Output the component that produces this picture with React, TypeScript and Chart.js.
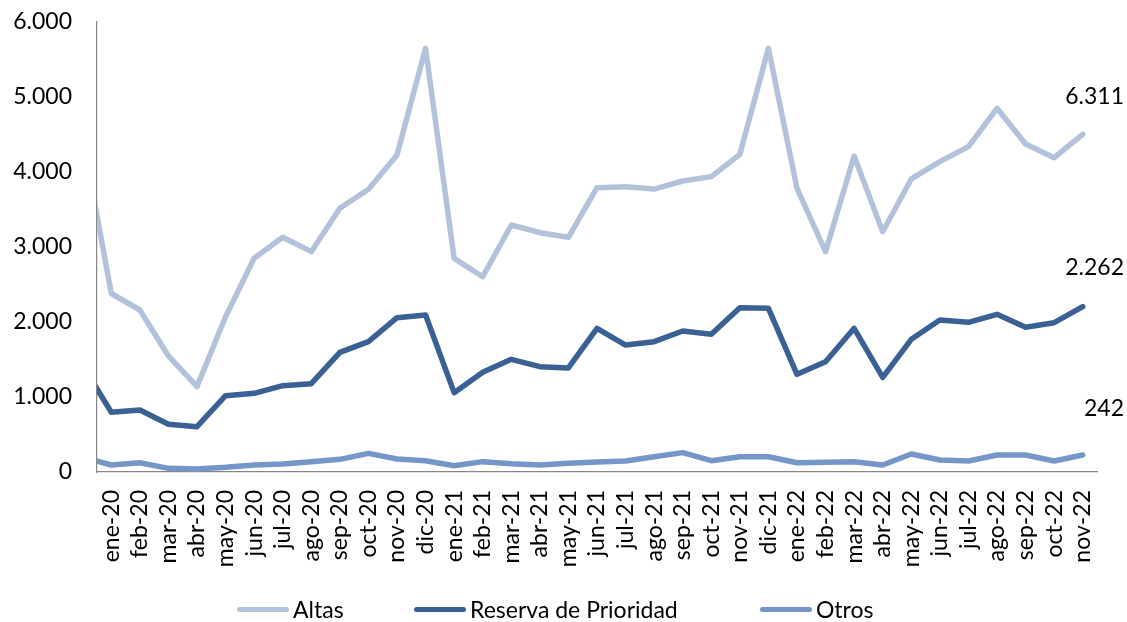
import React, { useEffect, useRef } from 'react';
import { Chart, registerables } from 'chart.js';

Chart.register(...registerables);

// Categories (dic-19 is only partly visible at the left edge, clipped by the axis)
const months = [
  'dic-19',
  'ene-20', 'feb-20', 'mar-20', 'abr-20', 'may-20', 'jun-20', 'jul-20', 'ago-20', 'sep-20', 'oct-20', 'nov-20', 'dic-20',
  'ene-21', 'feb-21', 'mar-21', 'abr-21', 'may-21', 'jun-21', 'jul-21', 'ago-21', 'sep-21', 'oct-21', 'nov-21', 'dic-21',
  'ene-22', 'feb-22', 'mar-22', 'abr-22', 'may-22', 'jun-22', 'jul-22', 'ago-22', 'sep-22', 'oct-22', 'nov-22',
];

const altas = [
  4460,
  2380, 2160, 1547, 1138, 2071, 2849, 3129, 2938, 3516, 3769, 4227, 5649,
  2849, 2604, 3293, 3191, 3129, 3791, 3804, 3773, 3880, 3938, 4236, 5649,
  3782, 2938, 4213, 3204, 3907, 4138, 4338, 4849, 4373, 4191, 4502,
];

const reserva = [
  1420,
  796, 827, 636, 604, 1018, 1049, 1151, 1178, 1596, 1738, 2058, 2093,
  1058, 1329, 1502, 1404, 1387, 1916, 1693, 1738, 1880, 1836, 2191, 2182,
  1302, 1471, 1916, 1262, 1769, 2027, 1996, 2102, 1929, 1991, 2204,
];

const otros = [
  198,
  93, 124, 49, 40, 62, 93, 107, 138, 169, 249, 173, 151,
  84, 138, 111, 93, 116, 133, 147, 204, 258, 151, 204, 204,
  124, 129, 138, 93, 240, 160, 147, 227, 227, 147, 227,
];

const seriesNames = ['Altas', 'Reserva de Prioridad', 'Otros'];
const seriesColors = ['#B3C2DB', '#3A6194', '#7596C8'];

const yTicks = [0, 1000, 2000, 3000, 4000, 5000, 6000];

// Text shown at the right end of the chart
const endLabels = ['6.311', '2.262', '242'];
const endLabelAnchors = [5000, 2720, 840];

const FONT = 'Lato, "Open Sans", sans-serif';

const fmt = (v: number) => String(Math.round(v)).replace(/\B(?=(\d{3})+(?!\d))/g, '.');

const toPoints = (arr: number[]) => arr.map((y, i) => ({ x: i, y }));

const endLabelPlugin = {
  id: 'endLabels',
  afterDraw(chart: any) {
    const { ctx, chartArea, scales } = chart;
    ctx.save();
    ctx.font = `23px ${FONT}`;
    ctx.fillStyle = '#000';
    ctx.textAlign = 'right';
    ctx.textBaseline = 'middle';
    endLabels.forEach((t, i) => {
      ctx.fillText(t, chartArea.right + 27, scales.y.getPixelForValue(endLabelAnchors[i]));
    });
    ctx.restore();
  },
};

export default function App() {
  const ref = useRef<HTMLCanvasElement>(null);

  useEffect(() => {
    const datasets = [altas, reserva, otros].map((arr, i) => ({
      label: seriesNames[i],
      data: toPoints(arr),
      borderColor: seriesColors[i],
      backgroundColor: seriesColors[i],
      borderWidth: 5.5,
      pointRadius: 0,
      pointHoverRadius: 0,
      tension: 0,
      borderJoinStyle: 'round' as const,
      borderCapStyle: 'round' as const,
      clip: { left: 0, top: 10, right: 10, bottom: 10 },
    }));

    const chart = new Chart(ref.current as HTMLCanvasElement, {
      type: 'line',
      data: { datasets },
      plugins: [endLabelPlugin],
      options: {
        animation: false,
        responsive: false,
        layout: { padding: { top: 22, right: 30, left: 0, bottom: 0 } },
        plugins: {
          legend: { display: false },
          tooltip: { enabled: false },
        },
        scales: {
          x: {
            type: 'linear',
            min: 0.5,
            max: months.length - 0.5,
            grid: { display: false, drawTicks: false },
            border: { color: '#868686', width: 1.2 },
            afterBuildTicks: (s: any) => {
              s.ticks = months.slice(1).map((_, i) => ({ value: i + 1 }));
            },
            afterFit: (s: any) => {
              s.height = 150;
              s.paddingLeft = 0;
              s.paddingRight = 0;
              s.paddingTop = 0;
              s.paddingBottom = 0;
            },
            ticks: {
              autoSkip: false,
              minRotation: 90,
              maxRotation: 90,
              padding: 18,
              color: '#000',
              font: { family: FONT, size: 23 },
              callback: (v: any) => months[Math.round(Number(v))] ?? '',
            },
          },
          y: {
            type: 'linear',
            min: yTicks[0],
            max: yTicks[yTicks.length - 1],
            grid: { display: false, drawTicks: false },
            border: { color: '#868686', width: 1.2 },
            afterBuildTicks: (s: any) => {
              s.ticks = yTicks.map((value) => ({ value }));
            },
            afterFit: (s: any) => {
              s.width = 97;
              s.paddingTop = 0;
              s.paddingBottom = 0;
              s.paddingLeft = 0;
              s.paddingRight = 0;
            },
            ticks: {
              padding: 25,
              color: '#000',
              font: { family: FONT, size: 23 },
              callback: (v: any) => fmt(Number(v)),
            },
          },
        },
      },
    } as any);

    return () => chart.destroy();
  }, []);

  const legendLefts = [237, 414, 760];

  return (
    <div
      style={{
        position: 'fixed',
        left: 0,
        top: 0,
        width: 1127,
        height: 622,
        background: '#fff',
        fontFamily: FONT,
        overflow: 'hidden',
      }}
    >
      <canvas ref={ref} width={1127} height={622} style={{ position: 'absolute', left: 0, top: 0 }} />
      {seriesNames.map((name, i) => (
        <div
          key={name}
          style={{
            position: 'absolute',
            left: legendLefts[i],
            top: 596,
            height: 26,
            display: 'flex',
            alignItems: 'center',
            fontSize: 23,
            color: '#000',
            whiteSpace: 'nowrap',
          }}
        >
          <span
            style={{
              display: 'inline-block',
              width: 52,
              height: 5,
              borderRadius: 3,
              background: seriesColors[i],
              marginRight: 4,
            }}
          />
          <span>{name}</span>
        </div>
      ))}
    </div>
  );
}
